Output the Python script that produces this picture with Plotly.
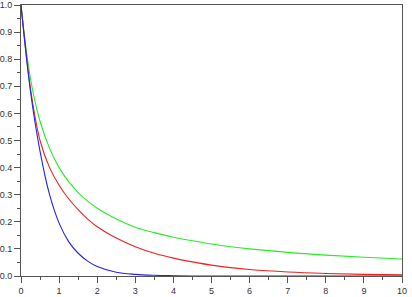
import plotly.graph_objects as go

x_vals = [0, 0.25, 0.5, 0.75, 1, 1.25, 1.5, 1.75, 2, 2.5, 3, 3.5, 4, 4.5, 5, 5.5, 6, 7, 8, 9, 10]
blue_vals = [1, 0.68, 0.46, 0.30, 0.195, 0.127, 0.084, 0.055, 0.035, 0.014, 0.006, 0.0025, 0.001, 0, 0, 0, 0, 0, 0, 0, 0]
red_vals = [1, 0.69, 0.50, 0.40, 0.335, 0.285, 0.245, 0.21, 0.182, 0.14, 0.108, 0.084, 0.066, 0.052, 0.040, 0.031, 0.024, 0.015, 0.0095, 0.006, 0.004]
green_vals = [1, 0.727, 0.571, 0.471, 0.40, 0.348, 0.308, 0.276, 0.25, 0.21, 0.18, 0.16, 0.143, 0.13, 0.118, 0.108, 0.10, 0.087, 0.077, 0.069, 0.063]
x_ticks = list(range(0, 11))
y_ticks = [i / 10 for i in range(0, 11)]

fig = go.Figure()
for vals, col in [(green_vals, "#22ee22"), (red_vals, "#ee2222"), (blue_vals, "#2222ee")]:
    fig.add_trace(go.Scatter(x=x_vals, y=vals, mode="lines",
                             line=dict(color=col, width=1.1, shape="spline", smoothing=1),
                             showlegend=False, hoverinfo="skip"))

axis_common = dict(showgrid=False, zeroline=False, showline=True, linecolor="#555555",
                   linewidth=1, mirror=True, ticks="outside", ticklen=6, tickcolor="#555555",
                   automargin=False,
                   tickfont=dict(family="Liberation Sans, Arial, sans-serif", size=9, color="#333333"))

fig.update_xaxes(range=[0, 10], tickvals=x_ticks, ticktext=[str(v) for v in x_ticks],
                 minor=dict(ticks="outside", ticklen=3, dtick=0.5, tickcolor="#555555"),
                 **axis_common)
fig.update_yaxes(range=[0, 1], tickvals=y_ticks, ticktext=["%.1f" % v for v in y_ticks],
                 minor=dict(ticks="outside", ticklen=3, dtick=0.05, tickcolor="#555555"),
                 **axis_common)

fig.update_layout(width=412, height=297, margin=dict(l=21, r=10, t=5, b=21),
                  plot_bgcolor="white", paper_bgcolor="white")

fig.write_html("out.html")
